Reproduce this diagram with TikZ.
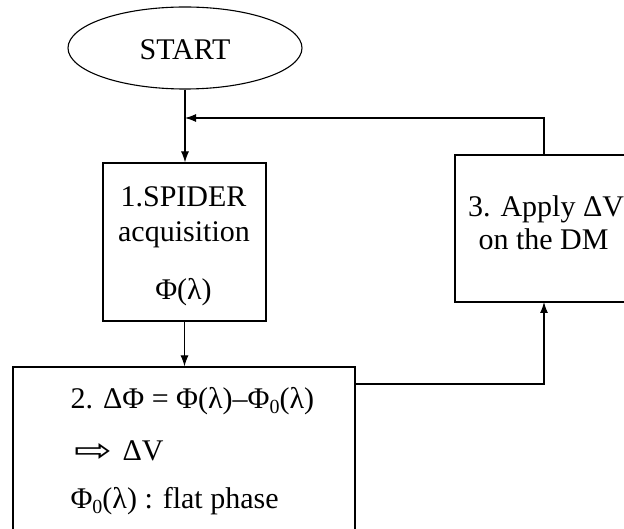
\documentclass[tikz,border=0pt]{standalone}
\usepackage{fontspec}
\setmainfont{Liberation Serif}
\newfontfamily\symfont{DejaVu Sans}
\usetikzlibrary{arrows.meta,shapes.geometric}
\newcommand{\zsub}{\raisebox{-5pt}{\fontsize{20}{20}\selectfont 0}}
\begin{document}
\begin{tikzpicture}[x=1pt,y=-1pt,line width=1.1pt,
  boxshape/.style={draw,rectangle,inner sep=0pt},
  txt/.style={inner sep=0pt,font=\fontsize{30}{36}\selectfont},
  arr/.style={-{Latex[length=11pt,width=8pt]}}]
\useasboundingbox (0,0) rectangle (624,529);
\fill[white] (0,0) rectangle (624,529);
\clip (0,0) rectangle (624,529);
% shapes
\node[draw,ellipse,minimum width=234pt,minimum height=82pt,inner sep=0pt] (start) at (185,48) {};
\node[boxshape,minimum width=163pt,minimum height=158pt] (b1) at (184.5,242) {};
\node[boxshape,minimum width=195pt,minimum height=147pt] (b3) at (552.5,228.5) {};
\node[boxshape,minimum width=342pt,minimum height=193pt] (b2) at (184,463.5) {};
% texts
\node[txt,anchor=base] (tstart) at (185,60) {START};
\node[txt,anchor=base] (t1a) at (183.5,207) {1.SPIDER};
\node[txt,anchor=base] (t1b) at (184,242) {acquisition};
\node[txt,anchor=base] (t1c) at (183.5,300) {Φ(λ)};
\node[txt,anchor=base] (t3a) at (546,217) {3. Apply ΔV};
\node[txt,anchor=base] (t3b) at (543.5,250) {on the DM};
\node[txt,anchor=base west] (t2a) at (70,408) {2. ΔΦ = Φ(λ)–Φ\zsub(λ)};
\node[inner sep=0pt,anchor=west] (t2arrow) at (74,452) {\resizebox{38pt}{18pt}{\symfont ⇨}};
\node[txt,anchor=base west] (t2b) at (122,460) {ΔV};
\node[txt,anchor=base west] (t2c) at (70,508) {Φ\zsub(λ) : flat phase};
% connector points
\coordinate (b3top) at (544,155);
\coordinate (join) at (start.south |- 0,118);
\coordinate (b2out) at (b2.east |- 0,384);
\coordinate (b3bot) at (544,302);
% connectors
\draw[arr] (start.south) -- (start.south |- b1.north);
\draw[arr] (b3top) |- (join);
\draw[arr] (b1.south) -- (b1.south |- b2.north);
\draw[arr] (b2out) -| (b3bot);
\end{tikzpicture}
\end{document}
